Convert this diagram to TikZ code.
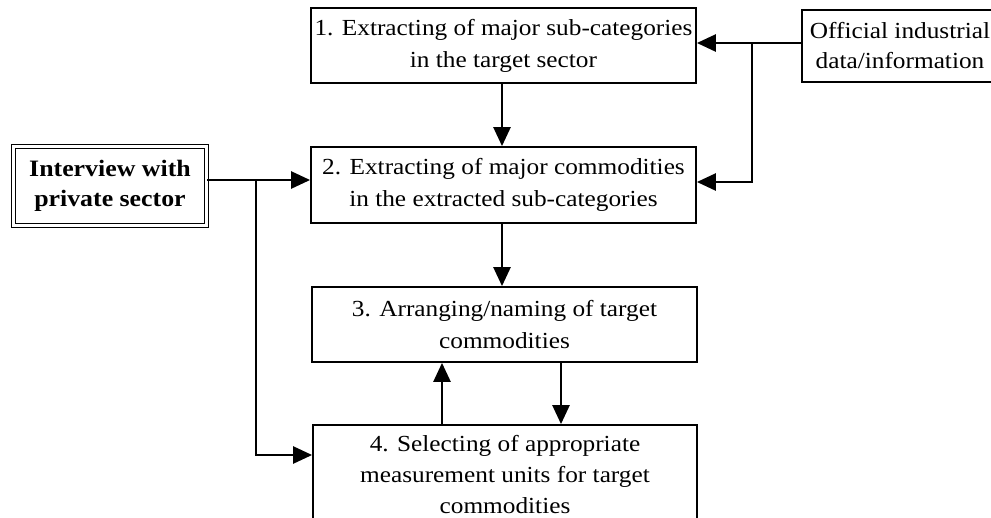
\documentclass[tikz,border=0pt]{standalone}
\usepackage{fontspec}
\setmainfont[FakeStretch=1.1]{Liberation Serif}
\usetikzlibrary{arrows.meta}
\begin{document}
\begin{tikzpicture}[x=1pt,y=-1pt,
  stepbox/.style={draw, line width=1.8pt, align=center, inner sep=0pt,
    font=\fontsize{23}{32}\selectfont},
  sourcebox/.style={stepbox, font=\fontsize{23}{30}\selectfont},
  link/.style={line width=2.6pt, -{Triangle[length=19pt,width=17pt]}}]
\useasboundingbox (0,0) rectangle (991,517);

% process steps
\node[stepbox, minimum width=385pt, minimum height=75pt] (b1) at (503.5,45.5)
  {1. Extracting of major sub-categories\\in the target sector};
\node[stepbox, minimum width=385pt, minimum height=76pt] (b2) at (503.5,185)
  {2. Extracting of major commodities\\in the extracted sub-categories};
\node[stepbox, minimum width=385pt, minimum height=75pt] (b3) at (504.5,324.5)
  {3. Arranging/naming of target\\commodities};
\node[stepbox, minimum width=384pt, minimum height=100pt, font=\fontsize{23}{31}\selectfont] (b4) at (505,475)
  {4. Selecting of appropriate\\measurement units for target\\commodities};

% information sources
\node[sourcebox, minimum width=196pt, minimum height=72pt] (off) at (900,46)
  {Official industrial\\data/information};
\node[sourcebox, double, line width=1.4pt, double distance=2.6pt,
  minimum width=193pt, minimum height=79pt, font=\fontsize{23.5}{30}\selectfont\bfseries] (int) at (110,186)
  {Interview with\\private sector};

% helper coordinates for connector rows and columns
\coordinate (yOff) at (0,43);
\coordinate (yTwo) at (0,182);
\coordinate (yInt) at (0,180);
\coordinate (yFour) at (0,455);
\coordinate (xL) at (256,0);
\coordinate (xR) at (752,0);
\coordinate (xMid) at (502,0);
\coordinate (xUp) at (442,0);
\coordinate (xDown) at (561,0);

% connectors
\draw[link] (off.west |- yOff) -- (b1.east |- yOff);
\draw[link] (xR |- yOff) -- (xR |- yTwo) -- (b2.east |- yTwo);
\draw[link] (b1.south -| xMid) -- (b2.north -| xMid);
\draw[link] (b2.south -| xMid) -- (b3.north -| xMid);
\draw[link] (int.east |- yInt) -- (b2.west |- yInt);
\draw[link] (xL |- yInt) -- (xL |- yFour) -- (b4.west |- yFour);
\draw[link] (b4.north -| xUp) -- (b3.south -| xUp);
\draw[link] (b3.south -| xDown) -- (b4.north -| xDown);
\end{tikzpicture}
\end{document}
